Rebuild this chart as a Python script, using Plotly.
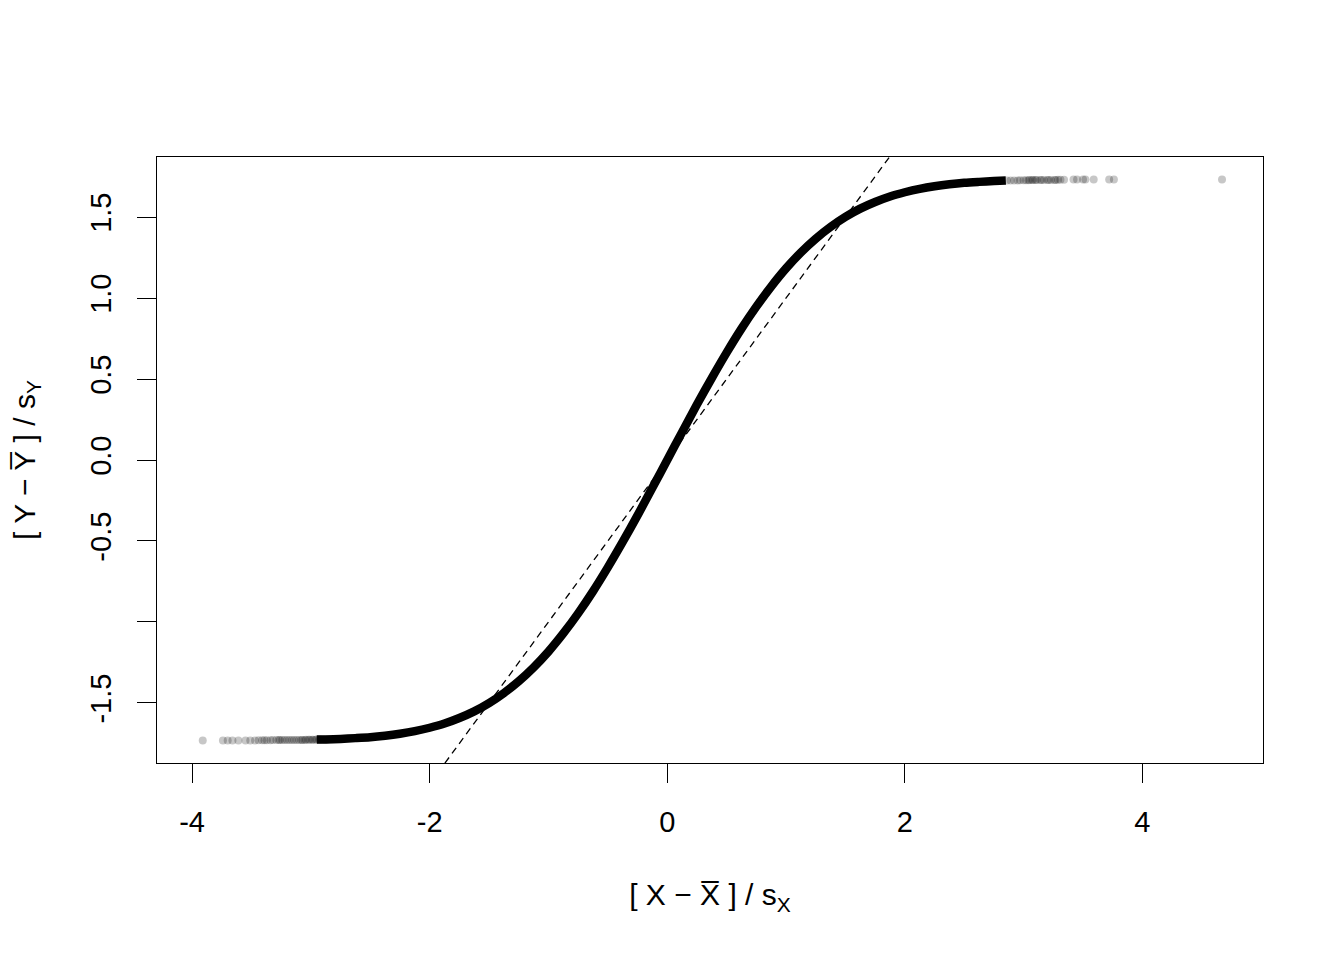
import plotly.graph_objects as go

# Dense part of the curve
curve_x = [-2.95, -2.875, -2.75, -2.625, -2.5, -2.375, -2.25, -2.125, -2.0, -1.875, -1.75, -1.625,
           -1.5, -1.375, -1.25, -1.125, -1.0, -0.875, -0.75, -0.625, -0.5, -0.375, -0.25, -0.125,
           0.0, 0.125, 0.25, 0.375, 0.5, 0.625, 0.75, 0.875, 1.0, 1.125, 1.25, 1.375,
           1.5, 1.625, 1.75, 1.875, 2.0, 2.125, 2.25, 2.375, 2.5, 2.625, 2.75, 2.85]
curve_y = [-1.726, -1.725, -1.722, -1.717, -1.711, -1.702, -1.690, -1.674, -1.653, -1.627, -1.593, -1.552,
           -1.501, -1.439, -1.366, -1.281, -1.183, -1.071, -0.947, -0.811, -0.663, -0.506, -0.342, -0.172,
           0.0, 0.172, 0.342, 0.506, 0.663, 0.811, 0.947, 1.071, 1.183, 1.281, 1.366, 1.439,
           1.501, 1.552, 1.593, 1.627, 1.653, 1.674, 1.690, 1.702, 1.711, 1.717, 1.722, 1.725]

# Sparse tail points (semi-transparent)
tail_x = [-3.91, -3.74, -3.70, -3.66, -3.61, -3.55, -3.51, -3.47, -3.44, -3.41, -3.39, -3.37, -3.34, -3.32,
          -3.29, -3.27, -3.26, -3.24, -3.22, -3.20, -3.18, -3.16, -3.14, -3.12, -3.10, -3.08, -3.07,
          -3.05, -3.04, -3.02, -3.01, -2.99, -2.98, -2.96, -2.95, -2.93, -2.92, -2.90, -2.88, -2.86,
          2.86, 2.89, 2.92, 2.95, 2.97, 3.00, 3.02, 3.04, 3.05, 3.07, 3.08, 3.10, 3.11, 3.14, 3.15,
          3.17, 3.20, 3.21, 3.23, 3.26, 3.27, 3.29, 3.31, 3.34, 3.42, 3.45, 3.50, 3.52, 3.59,
          3.72, 3.76, 4.67]
tail_y = [-1.732, -1.732, -1.732, -1.732, -1.731, -1.731, -1.731, -1.731, -1.730, -1.730, -1.730, -1.730, -1.730, -1.729,
          -1.729, -1.729, -1.729, -1.729, -1.729, -1.728, -1.728, -1.728, -1.728, -1.728, -1.728, -1.728, -1.728,
          -1.728, -1.727, -1.727, -1.727, -1.727, -1.727, -1.727, -1.726, -1.726, -1.726, -1.726, -1.726, -1.725,
          1.725, 1.726, 1.726, 1.726, 1.727, 1.727, 1.727, 1.727, 1.728, 1.728, 1.728, 1.728, 1.728, 1.728, 1.728,
          1.729, 1.729, 1.729, 1.729, 1.729, 1.729, 1.730, 1.730, 1.730, 1.731, 1.731, 1.731, 1.731, 1.732,
          1.732, 1.732, 1.732]

# Identity reference line
ref_x = [-4.5, 5.2]
ref_y = [-4.5, 5.2]

x_ticks = [-4, -2, 0, 2, 4]
y_ticks = [-1.5, -1.0, -0.5, 0.0, 0.5, 1.0, 1.5]
y_ticktext = ["-1.5", "", "-0.5", "0.0", "0.5", "1.0", "1.5"]

FONT = "Liberation Sans, Arial, sans-serif"

fig = go.Figure()
fig.add_trace(go.Scatter(x=curve_x, y=curve_y, mode="lines",
                         line=dict(color="black", width=8.5, shape="spline", smoothing=0.8),
                         hoverinfo="skip", showlegend=False))
fig.add_trace(go.Scatter(x=tail_x, y=tail_y, mode="markers",
                         marker=dict(color="rgba(0,0,0,0.22)", size=8, line=dict(width=0)),
                         showlegend=False))
fig.add_trace(go.Scatter(x=ref_x, y=ref_y, mode="lines",
                         line=dict(color="black", width=1.3, dash="7px,5px"), showlegend=False))

axis_common = dict(showgrid=False, zeroline=False, showline=True, linecolor="black", linewidth=1.3,
                   mirror=True, ticks="outside", ticklen=19, tickwidth=1.3, tickcolor="black",
                   automargin=False,
                   tickfont=dict(family=FONT, size=29, color="black"))

fig.update_layout(
    width=1344, height=960,
    paper_bgcolor="white", plot_bgcolor="white",
    margin=dict(l=149, r=89, t=149, b=205),
    font=dict(family=FONT, color="black"),
    xaxis=dict(range=[-4.295, 5.015], tickvals=x_ticks, ticktext=[str(v) for v in x_ticks],
               ticklabelstandoff=14,
               title=dict(text="[ X − X\u0305 ] / s<sub>X</sub>", font=dict(family=FONT, size=30), standoff=47),
               **axis_common),
    yaxis=dict(range=[-1.8706, 1.8706], tickvals=y_ticks, ticktext=y_ticktext, tickangle=-90,
               ticklabelstandoff=14,
               title=dict(text="[ Y − Y\u0305 ] / s<sub>Y</sub>", font=dict(family=FONT, size=30), standoff=49),
               **axis_common),
)

fig.write_html("out.html")
